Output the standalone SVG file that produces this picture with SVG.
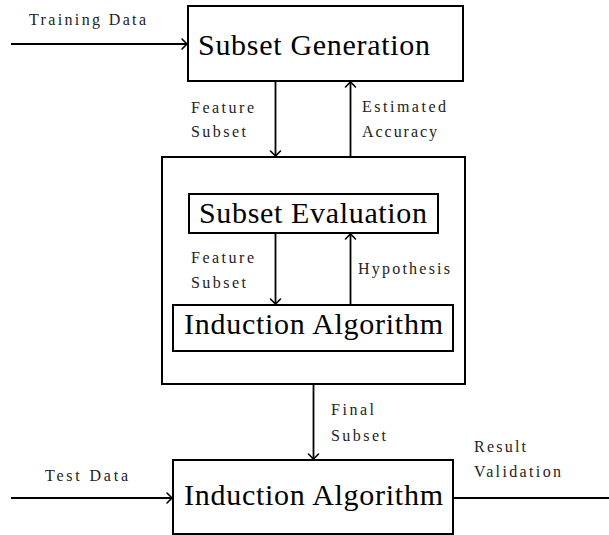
<svg xmlns="http://www.w3.org/2000/svg" width="609" height="535" viewBox="0 0 609 535">
<style>
.box{fill:#fff;stroke:#000;stroke-width:2}
.big{font-family:"Liberation Serif","Times New Roman",serif;font-size:30px;fill:#000}
.sm{font-family:"Liberation Serif","Times New Roman",serif;font-size:16px;fill:#222}
.ln{fill:none;stroke:#000;stroke-width:1.8}
</style>
<defs>
<marker id="ah" markerUnits="userSpaceOnUse" markerWidth="14" markerHeight="14" viewBox="-8 -7 10 14" refX="0" refY="0" orient="auto">
<path d="M -5 -5 Q -1.5 -1.5 0 0 Q -1.5 1.5 -5 5" fill="none" stroke="#000" stroke-width="1.6" stroke-linecap="round"/>
</marker>
</defs>
<g id="connectors">
<line class="ln" x1="11" y1="44" x2="187" y2="44" marker-end="url(#ah)"/>
<line class="ln" x1="275.5" y1="81" x2="275.5" y2="156" marker-end="url(#ah)"/>
<line class="ln" x1="350.5" y1="157" x2="350.5" y2="82" marker-end="url(#ah)"/>
<line class="ln" x1="275.5" y1="233" x2="275.5" y2="304" marker-end="url(#ah)"/>
<line class="ln" x1="350.5" y1="305" x2="350.5" y2="234" marker-end="url(#ah)"/>
<line class="ln" x1="313.5" y1="384" x2="313.5" y2="459" marker-end="url(#ah)"/>
<line class="ln" x1="11" y1="498" x2="172" y2="498" marker-end="url(#ah)"/>
<line class="ln" x1="453" y1="498" x2="609" y2="498"/>
<text class="sm" x="29" y="25" textLength="117" lengthAdjust="spacing">Training Data</text>
<text class="sm" x="191" y="113" textLength="63" lengthAdjust="spacing">Feature</text>
<text class="sm" x="191" y="137" textLength="55" lengthAdjust="spacing">Subset</text>
<text class="sm" x="362" y="112" textLength="84" lengthAdjust="spacing">Estimated</text>
<text class="sm" x="362" y="137" textLength="75" lengthAdjust="spacing">Accuracy</text>
<text class="sm" x="191" y="263" textLength="63" lengthAdjust="spacing">Feature</text>
<text class="sm" x="191" y="288" textLength="55" lengthAdjust="spacing">Subset</text>
<text class="sm" x="358" y="274" textLength="92" lengthAdjust="spacing">Hypothesis</text>
<text class="sm" x="331" y="415" textLength="43" lengthAdjust="spacing">Final</text>
<text class="sm" x="331" y="441" textLength="55" lengthAdjust="spacing">Subset</text>
<text class="sm" x="45" y="481" textLength="83" lengthAdjust="spacing">Test Data</text>
<text class="sm" x="474" y="452" textLength="52" lengthAdjust="spacing">Result</text>
<text class="sm" x="474" y="477" textLength="87" lengthAdjust="spacing">Validation</text>
</g>
<g id="subset-generation">
<rect class="box" x="188" y="6" width="275" height="75"/>
<text class="big" x="198" y="55" textLength="232" lengthAdjust="spacing">Subset Generation</text>
</g>
<g id="wrapper">
<rect class="box" x="162" y="157" width="303" height="227" style="fill:none"/>
</g>
<g id="subset-evaluation">
<rect class="box" x="189" y="194" width="249" height="39"/>
<text class="big" x="199" y="223" textLength="228" lengthAdjust="spacing">Subset Evaluation</text>
</g>
<g id="induction-inner">
<rect class="box" x="173" y="305" width="280" height="46"/>
<text class="big" x="184" y="334" textLength="259" lengthAdjust="spacing">Induction Algorithm</text>
</g>
<g id="induction-final">
<rect class="box" x="173" y="460" width="280" height="74"/>
<text class="big" x="184" y="505" textLength="259" lengthAdjust="spacing">Induction Algorithm</text>
</g>
</svg>
